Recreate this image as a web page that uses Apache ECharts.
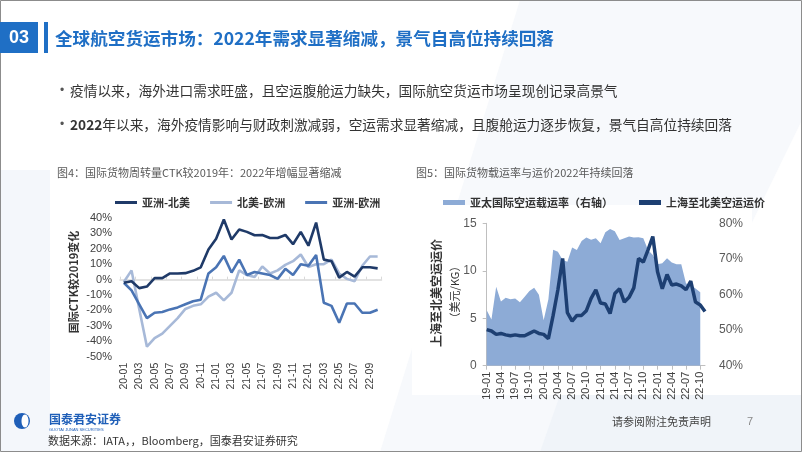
<!DOCTYPE html>
<html><head><meta charset="utf-8">
<script src="https://cdn.jsdelivr.net/npm/echarts@6/dist/echarts.min.js"></script>
<style>html,body{margin:0;padding:0;background:#fff}#c{width:802px;height:452px}</style>
</head><body><div id="c"></div>
<script>
const ctkMonths = ['20-01','20-02','20-03','20-04','20-05','20-06','20-07','20-08','20-09','20-10','20-11','20-12',
 '21-01','21-02','21-03','21-04','21-05','21-06','21-07','21-08','21-09','21-10','21-11','21-12',
 '22-01','22-02','22-03','22-04','22-05','22-06','22-07','22-08','22-09','22-10'];
const asiaNA = [-2,-1,-5.5,-4.5,1,1,4,4,4.2,5.7,8,19.5,26.5,39,26,32.5,31,28.8,29,27,27,29,23,31,22,37,13,12,1.3,5,2,8,8,7.3];
const naEU   = [-1.5,6,-19,-43.5,-38,-35,-30,-25,-19,-17,-16,-11,-8.5,-13.5,-8.5,6,3,1.7,8.6,4,6,9.6,12,16.3,8.2,10,10,13,4,0.5,-1,9,15,15];
const asiaEU = [-2,-7,-16,-25,-21.5,-21,-19.3,-18,-16,-14,-13,4,8,15.4,4.6,13,3,5,4,3,0.5,7,3,10,9,16,-15,-17,-28,-15.5,-15.5,-21.5,-21.5,-19.5];
const ctkNames = ['亚洲-北美','北美-欧洲','亚洲-欧洲'];
const ctkTicks = [-50,-40,-30,-20,-10,0,10,20,30,40];

const priceMonths = ['19-01','19-02','19-03','19-04','19-05','19-06','19-07','19-08','19-09','19-10','19-11','19-12',
 '20-01','20-02','20-03','20-04','20-05','20-06','20-07','20-08','20-09','20-10','20-11','20-12',
 '21-01','21-02','21-03','21-04','21-05','21-06','21-07','21-08','21-09','21-10','21-11','21-12',
 '22-01','22-02','22-03','22-04','22-05','22-06','22-07','22-08','22-09','22-10','22-11'];
const loadRate = [55.6,53,62.2,58,59.1,58.7,58.9,57.8,59.4,61,61.9,59.9,
 52.8,58.7,72.6,72,69.7,69.2,73.2,72.5,75,76,75.4,75.8,
 74.4,77.5,78.4,77.8,75.3,75.8,76.3,76,76.1,75.8,72.5,71.1,
 68.5,68.8,70.2,69,68.5,68.5,63.1,62.7,61.7,60.6,null];
const airPrice = [3.8,3.65,3.3,3.4,3.25,3.15,3.25,3.15,3.15,3.4,3.65,3.4,
 3.3,2.85,5.3,8.0,11.3,5.6,4.7,5.3,5.3,5.8,7.1,8.0,
 6.6,6.5,5.5,7.6,8.1,6.7,7.2,8.2,11.3,10.9,12.2,13.6,
 9.9,8.1,9.6,8.5,8.6,8.4,8.0,8.9,6.7,6.4,5.7];
const priceNames = ['亚太国际空运载运率（右轴）','上海至北美空运运价'];
const leftTicks = [0,5,10,15];
const rightTicks = [40,50,60,70,80];

const FONT = '"Liberation Sans","Noto Sans CJK SC",sans-serif';
const CJK = '"Noto Sans CJK SC","Liberation Sans",sans-serif';
const chart = echarts.init(document.getElementById('c'), null, {renderer:'canvas'});

const txt = (x,y,t,o={},rot=0) => ({type:'text', x, y, rotation:rot, style:Object.assign({text:t, fill:'#333', font:'13px '+CJK, verticalAlign:'middle'}, o)});

chart.setOption({
  animation:false,
  backgroundColor:'#ffffff',
  textStyle:{fontFamily:FONT},
  graphic:[
    {type:'polygon', silent:true, z:-10, shape:{points:[[520,0],[802,0],[802,120],[640,452],[380,452]]}, style:{fill:'#f7f9fc'}},
    {type:'polygon', silent:true, z:-10, shape:{points:[[0,170],[50,170],[50,452],[0,452]]}, style:{fill:'#f4f7fb'}},
    {type:'polygon', silent:true, z:-9, shape:{points:[[560,395],[802,395],[802,452],[540,452]]}, style:{fill:'#f0f4f9'}},
    {type:'rect', silent:true, z:-8, shape:{x:52,y:205,width:340,height:190}, style:{fill:'#ffffff'}},
    {type:'rect', silent:true, z:-8, shape:{x:412,y:205,width:340,height:190}, style:{fill:'#ffffff'}},
    {type:'rect', shape:{x:0.5,y:0.5,width:801,height:451}, style:{fill:null, stroke:'#8c8c8c', lineWidth:1}},
    {type:'rect', shape:{x:0,y:22,width:38,height:31}, style:{fill:'#1f6fc5'}},
    {type:'rect', shape:{x:44,y:22,width:4,height:31}, style:{fill:'#1f6fc5'}},
    txt(19,38,'03',{fill:'#fff', font:'bold 18px '+FONT, align:'center'}),
    txt(55,38,'全球航空货运市场：2022年需求显著缩减，景气自高位持续回落',{fill:'#1f6fc5', font:'bold 17.6px '+CJK}),
    txt(60,91,'•',{fill:'#555', font:'12px '+FONT}),
    txt(70,91,'疫情以来，海外进口需求旺盛，且空运腹舱运力缺失，国际航空货运市场呈现创记录高景气',{fill:'#333', font:'13.7px '+CJK}),
    txt(60,125,'•',{fill:'#555', font:'12px '+FONT}),
    {type:'text', x:70, y:125, style:{rich:{b:{font:'bold 13.7px '+CJK, fill:'#333'}, n:{font:'13.7px '+CJK, fill:'#333'}}, text:'{b|2022}{n|年以来，海外疫情影响与财政刺激减弱，空运需求显著缩减，且腹舱运力逐步恢复，景气自高位持续回落}', verticalAlign:'middle'}},
    txt(57,173,'图4：国际货物周转量CTK较2019年：2022年增幅显著缩减',{fill:'#595959', font:'11px '+CJK}),
    txt(416,173,'图5：国际货物载运率与运价2022年持续回落',{fill:'#595959', font:'11px '+CJK}),
    txt(74,282,'国际CTK较2019变化',{fill:'#333', font:'bold 11px '+CJK, align:'center'}, Math.PI/2),
    txt(436,293,'上海至北美空运运价',{fill:'#333', font:'bold 12px '+CJK, align:'center'}, Math.PI/2),
    txt(455,292,'（美元/KG）',{fill:'#333', font:'11px '+CJK, align:'center'}, Math.PI/2),
    {type:'circle', shape:{cx:22,cy:421,r:8}, style:{fill:'#1f5fb8'}},
    {type:'ellipse', shape:{cx:25,cy:421,rx:3.5,ry:6.5}, style:{fill:'#fff'}},
    txt(49,419,'国泰君安证券',{fill:'#1f5fb8', font:'bold 12px '+CJK}),
    txt(49,430,'GUOTAI JUNAN SECURITIES',{fill:'#1f5fb8', font:'4px '+FONT}),
    txt(48,441,'数据来源：IATA，，Bloomberg，国泰君安证券研究',{fill:'#333', font:'11px '+CJK}),
    txt(612,422,'请参阅附注免责声明',{fill:'#444', font:'11px '+CJK}),
    txt(747,422,'7',{fill:'#888', font:'11px '+FONT})
  ],
  legend:[
    {left:110, top:192, itemWidth:22, itemHeight:3, itemGap:20, icon:'rect',
     data:ctkNames, textStyle:{fontFamily:CJK, fontSize:11, fontWeight:'bold', color:'#333'}},
    {left:438, top:192, itemWidth:22, itemHeight:5, itemGap:26, icon:'rect',
     data:priceNames, textStyle:{fontFamily:CJK, fontSize:11, fontWeight:'bold', color:'#333'}}
  ],
  grid:[
    {left:120, right:420.5, top:218, bottom:95.3},
    {left:486.7, right:97, top:223.3, bottom:86.3}
  ],
  xAxis:[
    {gridIndex:0, type:'category', data:ctkMonths, boundaryGap:true, position:'bottom',
     axisLine:{show:false, onZero:false}, axisTick:{show:false},
     axisLabel:{interval:1, rotate:90, fontSize:10.5, color:'#404040', margin:6}},
    {gridIndex:0, type:'category', data:ctkMonths, boundaryGap:true, position:'top',
     axisLine:{show:true, onZero:true, lineStyle:{color:'#d9d9d9', width:1.5}},
     axisTick:{show:true, interval:1, length:3, lineStyle:{color:'#d9d9d9'}}, axisLabel:{show:false}},
    {gridIndex:1, type:'category', data:priceMonths, boundaryGap:false,
     axisLine:{lineStyle:{color:'#bfbfbf'}}, axisTick:{interval:2, length:4, lineStyle:{color:'#bfbfbf'}},
     axisLabel:{interval:2, rotate:90, fontSize:11, color:'#404040', margin:6}}
  ],
  yAxis:[
    {gridIndex:0, type:'value', min:-50, max:40, interval:10, splitLine:{show:false},
     axisLine:{show:false}, axisTick:{show:false},
     axisLabel:{formatter:'{value}%', fontSize:11, color:'#404040', margin:8}},
    {gridIndex:1, type:'value', min:0, max:15, interval:5, splitLine:{show:false},
     axisLine:{show:true, lineStyle:{color:'#bfbfbf'}}, axisTick:{show:true, length:4, lineStyle:{color:'#bfbfbf'}},
     axisLabel:{fontSize:12, color:'#595959', margin:10}},
    {gridIndex:1, type:'value', min:40, max:80, interval:10, position:'right', splitLine:{show:false},
     axisLine:{show:false}, axisTick:{show:false},
     axisLabel:{formatter:'{value}%', fontSize:12, color:'#595959', margin:14}}
  ],
  series:[
    {name:ctkNames[1], type:'line', xAxisIndex:0, yAxisIndex:0, data:naEU, symbol:'none',
     lineStyle:{width:2.6, color:'#a7b9d8'}, itemStyle:{color:'#a7b9d8'}, z:3},
    {name:ctkNames[2], type:'line', xAxisIndex:0, yAxisIndex:0, data:asiaEU, symbol:'none',
     lineStyle:{width:2.6, color:'#4a74b4'}, itemStyle:{color:'#4a74b4'}, z:4},
    {name:ctkNames[0], type:'line', xAxisIndex:0, yAxisIndex:0, data:asiaNA, symbol:'none',
     lineStyle:{width:2.6, color:'#1f3a68'}, itemStyle:{color:'#1f3a68'}, z:5},
    {name:priceNames[0], type:'line', xAxisIndex:2, yAxisIndex:2, data:loadRate, symbol:'none',
     lineStyle:{width:0}, itemStyle:{color:'#8dabd6'}, areaStyle:{color:'#8dabd6', opacity:1, origin:'start'}, z:2},
    {name:priceNames[1], type:'line', xAxisIndex:2, yAxisIndex:1, data:airPrice, symbol:'none',
     lineStyle:{width:3.5, color:'#1d3f72'}, itemStyle:{color:'#1d3f72'}, z:5}
  ]
});
</script></body></html>
